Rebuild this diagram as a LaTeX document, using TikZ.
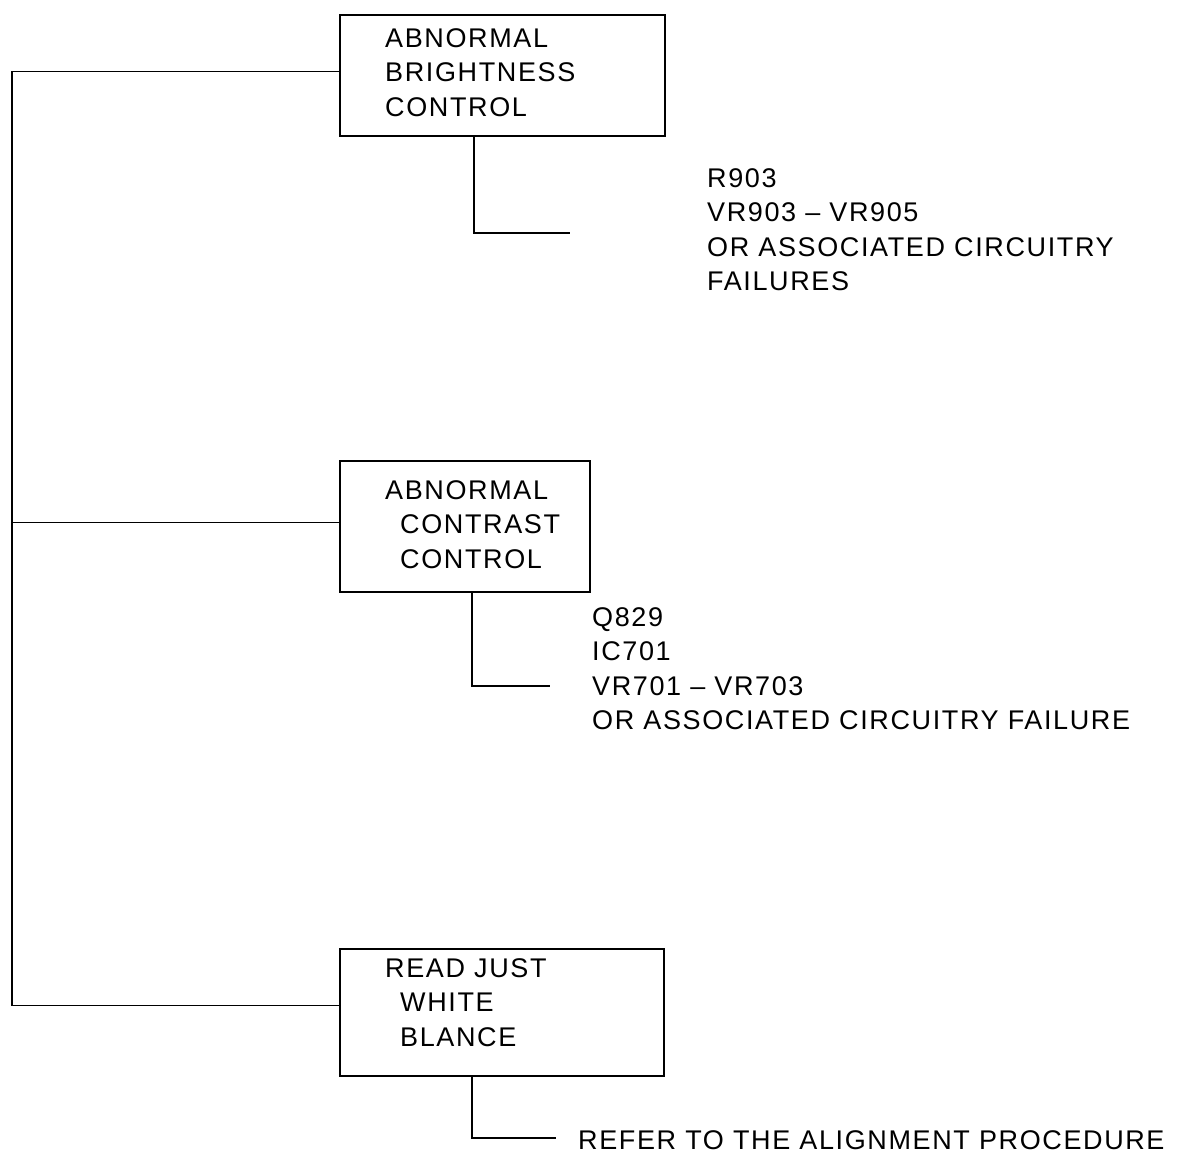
\documentclass[tikz,border=0pt]{standalone}
\usepackage{fontspec}
\newfontfamily\scanfont{Liberation Sans}[LetterSpace=6]
\usepackage{tikz}
\tikzset{
    lbl/.style = {align=left, inner sep=0pt, anchor=north west, font=\scanfont\fontsize{27}{34.5}\selectfont},
    fault_box/.style = {rectangle, draw=black, line width=1.7pt, inner sep=0pt},
    link/.style = {draw=black, line width=1.7pt}
}

\begin{document}
\begin{tikzpicture}[x=1pt, y=-1pt]
    \useasboundingbox (0,0) rectangle (1182,1160);

    \node [fault_box, minimum width=325pt, minimum height=121pt] (bright) at (502.5,75.5) {};
    \node [fault_box, minimum width=250pt, minimum height=131pt] (contrast) at (465,526.5) {};
    \node [fault_box, minimum width=324pt, minimum height=127pt] (white) at (502,1012.5) {};

    \node [lbl] (bright_txt) at (385,28) {ABNORMAL\\BRIGHTNESS\\CONTROL};
    \node [lbl] (contrast_txt) at (385,480) {ABNORMAL\\\hspace*{15pt}CONTRAST\\\hspace*{15pt}CONTROL};
    \node [lbl] (white_txt) at (385,958) {READ JUST\\\hspace*{15pt}WHITE\\\hspace*{15pt}BLANCE};

    \node [lbl] (bright_cause) at (707,168) {R903\\VR903 – VR905\\OR ASSOCIATED CIRCUITRY\\FAILURES};
    \node [lbl] (contrast_cause) at (592,607) {Q829\\IC701\\VR701 – VR703\\OR ASSOCIATED CIRCUITRY FAILURE};
    \node [lbl] (white_cause) at (578,1130) {REFER TO THE ALIGNMENT PROCEDURE};

    \coordinate (spine) at (12,0);
    \coordinate (bright_end) at (570,233);
    \coordinate (contrast_end) at (550,686);
    \coordinate (white_end) at (556,1138);

    \draw [link] ([yshift=4pt]bright.west) -- ([yshift=4pt]bright.west -| spine) -- ([yshift=7pt]white.west -| spine) -- ([yshift=7pt]white.west);
    \draw [link] ([yshift=4pt]contrast.west -| spine) -- ([yshift=4pt]contrast.west);

    \draw [link] ([xshift=-28.5pt]bright.south) |- (bright_end);
    \draw [link] ([xshift=7pt]contrast.south) |- (contrast_end);
    \draw [link] ([xshift=-30pt]white.south) |- (white_end);
\end{tikzpicture}
\end{document}
